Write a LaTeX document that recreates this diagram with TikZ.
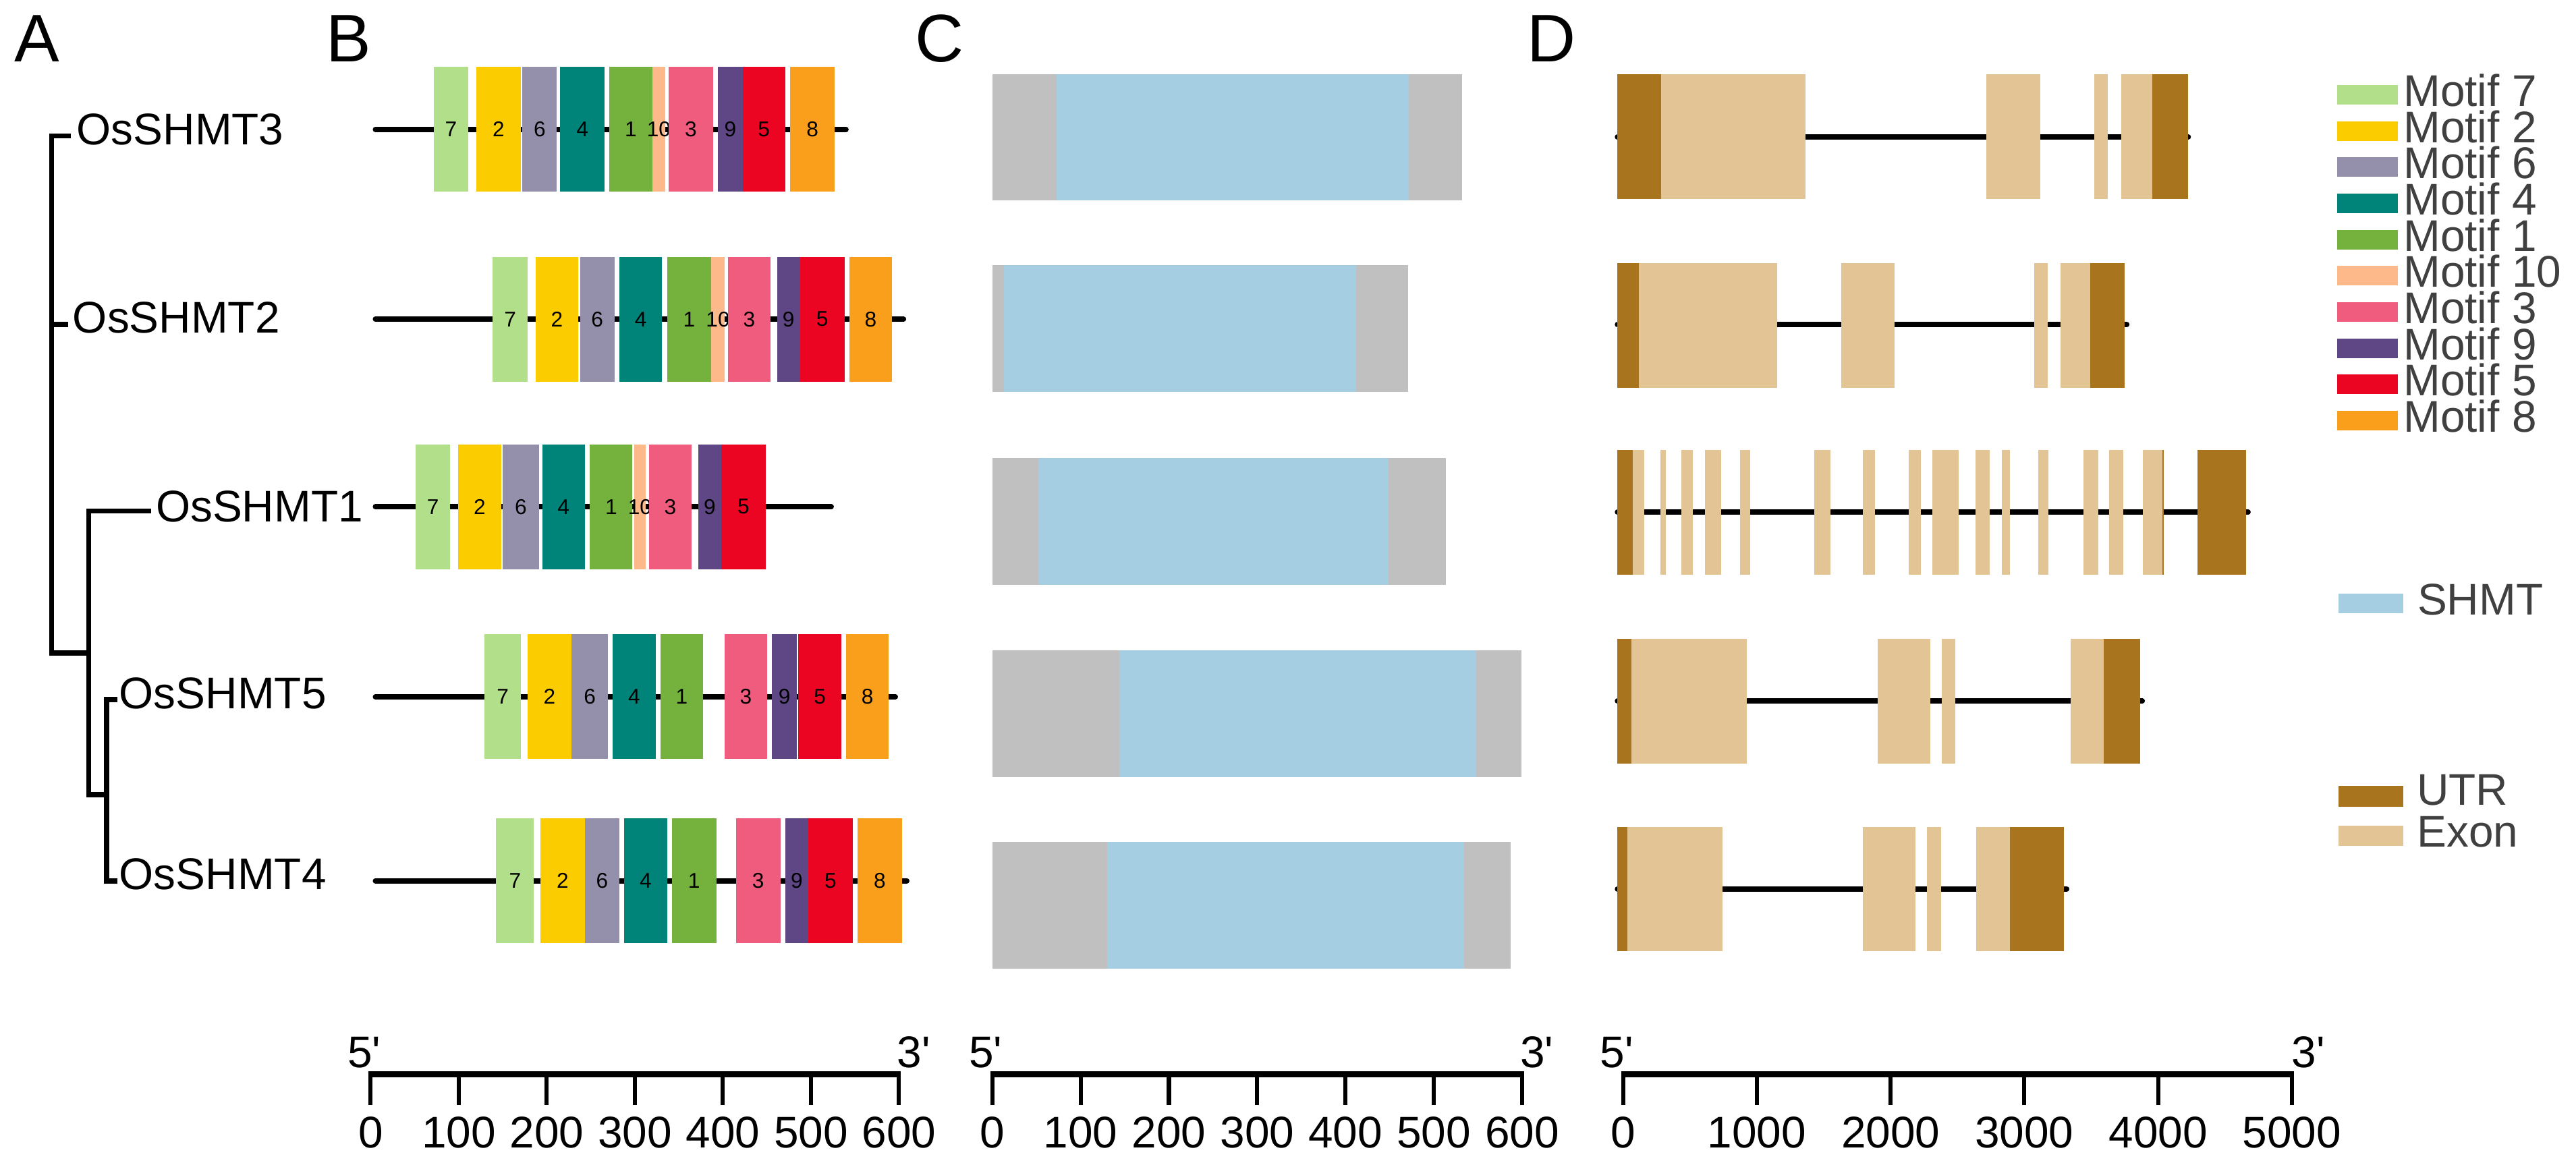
\documentclass[tikz,border=0pt]{standalone}
\usepackage{fontspec}
\newfontfamily\af{Liberation Sans}
\definecolor{mS}{RGB}{178,223,138}
\definecolor{mB}{RGB}{251,205,0}
\definecolor{mF}{RGB}{148,143,171}
\definecolor{mD}{RGB}{0,132,122}
\definecolor{mA}{RGB}{116,178,61}
\definecolor{mJ}{RGB}{253,185,138}
\definecolor{mC}{RGB}{240,92,126}
\definecolor{mI}{RGB}{94,71,132}
\definecolor{mE}{RGB}{235,5,34}
\definecolor{mH}{RGB}{250,159,27}
\definecolor{shmtblue}{RGB}{166,206,227}
\definecolor{cgray}{RGB}{192,192,192}
\definecolor{utrc}{RGB}{168,116,30}
\definecolor{exonc}{RGB}{227,197,149}
\definecolor{legtext}{RGB}{64,64,64}
\newcommand\fsz[1]{\fontsize{#1}{#1}\selectfont\af}
\newcommand\motrow[3]{\foreach \c/\a/\b/\l in {#3}{\fill[fill=\c] (\a,#2-38) rectangle (\b,#2+38); \node[mnum] (#1-\l) at ({(\a+\b)/2},#2) {\l};}}
\newcommand\generow[3]{\foreach \t/\a/\b in {#3}{\fill[fill=\t] (\a,#1) rectangle (\b,#2);}}
\begin{document}
\begin{tikzpicture}[x=1pt,y=-1pt,
  every node/.style={inner sep=0pt,outer sep=0pt},
  panel/.style={font=\fsz{41},anchor=base west},
  gene/.style={font=\fsz{27},anchor=base west},
  mnum/.style={font=\fsz{13},anchor=center},
  ticklab/.style={font=\fsz{27},anchor=base},
  legtxt/.style={font=\fsz{27},anchor=base west,text=legtext},
  tree/.style={line width=3.1pt,line join=miter},
  backbone/.style={line width=3.2pt,line cap=round},
  bar/.style={line width=3.4pt},
  tck/.style={line width=2.5pt}]
\useasboundingbox (0,0) rectangle (1568,709);

% panel letters
\node[panel] (pA) at (9,37.4) {A};
\node[panel] (pB) at (198.7,37.4) {B};
\node[panel] (pC) at (557,37.4) {C};
\node[panel] (pD) at (929.6,37.4) {D};

% tree
\node[gene] (g3) at (46.7,87.9) {OsSHMT3};
\node[gene] (g2) at (44.3,202.6) {OsSHMT2};
\node[gene] (g1) at (94.9,317.7) {OsSHMT1};
\node[gene] (g5) at (72.6,431.3) {OsSHMT5};
\node[gene] (g4) at (72.6,541.5) {OsSHMT4};
\coordinate (t3) at (43,82.7);
\coordinate (t2) at (41.6,197.5);
\coordinate (t1) at (92,311);
\coordinate (t5) at (71.5,425.8);
\coordinate (t4) at (71.5,536.4);
\draw[tree] (t3) -- (31.4,82.7) -- (31.4,397.5) -- (54,397.5);
\draw[tree] (31.4,197.5) -- (t2);
\draw[tree] (t1) -- (54,311) -- (54,483.8) -- (65,483.8);
\draw[tree] (t5) -- (65,425.8) -- (65,536.4) -- (t4);

% panel B backbones
\foreach \y/\xe in {78.8/515, 194.3/550, 308.5/506, 424.2/545, 536.2/552}
  \draw[backbone] (228.5,\y) -- (\xe,\y);
\motrow{ra}{78.8}{mS/264/285/7,mB/290/317/2,mF/318/339/6,mD/341/368/4,mA/371/397/1,mJ/397/405/10,mC/407/434/3,mI/437/452/9,mE/452/478/5,mH/481/508/8}
\motrow{rb}{194.3}{mS/300/321/7,mB/326/352/2,mF/353/374/6,mD/377/403/4,mA/406/433/1,mJ/433/441/10,mC/443/469/3,mI/473/487/9,mE/487/514/5,mH/517/543/8}
\motrow{rc}{308.5}{mS/253/274/7,mB/279/305/2,mF/306/328/6,mD/330/356/4,mA/359/385/1,mJ/386/393/10,mC/395/421/3,mI/425/439/9,mE/439/466/5}
\motrow{rd}{424.2}{mS/295/317/7,mB/321/348/2,mF/348/370/6,mD/373/399/4,mA/402/428/1,mC/441/467/3,mI/470/485/9,mE/486/512/5,mH/515/541/8}
\motrow{re}{536.2}{mS/302/325/7,mB/329/356/2,mF/356/377/6,mD/380/406/4,mA/409/436/1,mC/448/475/3,mI/478/492/9,mE/492/519/5,mH/522/549/8}

% panel C
\foreach \yt/\yb/\a/\b/\c/\d in {45/122/604/643/857.5/890, 161.5/238.6/604/611/825.5/857, 279/356/604/632/845/880, 396/473/604/681.5/898.6/926, 512.6/589.8/604/674/891/919.5}{
  \fill[cgray] (\a,\yt) rectangle (\d,\yb);
  \fill[shmtblue] (\b,\yt) rectangle (\c,\yb);
}

% panel D
\foreach \y/\xe in {83.4/1332, 197.6/1294.6, 311.8/1368.4, 426.8/1304, 541.2/1258}
  \draw[backbone] (984.5,\y) -- (\xe,\y);
\generow{45}{121}{utrc/984.4/1011.3, exonc/1011.3/1099, exonc/1209/1242, exonc/1274.6/1283, exonc/1291/1310, utrc/1310/1331.7}
\generow{160}{236}{utrc/984.4/997.5, exonc/997.5/1081.6, exonc/1120.6/1153.3, exonc/1238.2/1246.3, exonc/1254.1/1272.2, utrc/1272.2/1293.4}
\generow{274}{350}{utrc/984.4/994, exonc/994/1001, exonc/1010.6/1014, exonc/1023.4/1030.4, exonc/1037.8/1047.7, exonc/1059/1065.3, exonc/1104.3/1114.2, exonc/1133.7/1141.3, exonc/1161.7/1169.3, exonc/1176.1/1192.3, exonc/1202.3/1211.2, exonc/1218.3/1223.5, exonc/1240.8/1247, exonc/1268/1277.2, exonc/1283.8/1292.4, exonc/1304.2/1317, utrc/1316.3/1317.2, utrc/1337.4/1367.2}
\generow{389}{465}{utrc/984.4/993, exonc/993/1063.3, exonc/1143/1175, exonc/1181.9/1190, exonc/1260.2/1280.3, utrc/1280.3/1302.8}
\generow{503.6}{579.2}{utrc/984.4/990.4, exonc/990.4/1048.6, exonc/1134/1166, exonc/1173/1181.6, exonc/1203/1223.5, utrc/1223.5/1256.3}

% legend
\foreach \c/\l [count=\i from 0] in {mS/7,mB/2,mF/6,mD/4,mA/1,mJ/10,mC/3,mI/9,mE/5,mH/8}{
  \fill[fill=\c] (1422.6,{57.7+22.04*\i-6}) rectangle (1459.7,{57.7+22.04*\i+6});
  \node[legtxt] (leg-\l) at (1463,{57.7+22.04*\i+7}) {Motif \l};
}
\fill[shmtblue] (1423.3,361.6) rectangle (1463,373.5);
\node[legtxt] (legS) at (1471.5,374.5) {SHMT};
\fill[utrc] (1423.3,478.4) rectangle (1463,491);
\node[legtxt] (legU) at (1471.2,490.3) {UTR};
\fill[exonc] (1423.3,502.6) rectangle (1463,514.8);
\node[legtxt] (legE) at (1471.2,515.8) {Exon};

% scale bars
\draw[bar] (224.35,654) -- (548.45,654);
\foreach \v [count=\i from 0] in {0,100,200,300,400,500,600}{
  \draw[tck] ({225.6+53.6*\i},654) -- ({225.6+53.6*\i},672.8);
  \node[ticklab] (sa-\i) at ({225.6+53.6*\i},698.8) {\v};
}
\node[ticklab] (sa5) at (221.6,650) {5\char"0027};
\node[ticklab] (sa3) at (556.2,650) {3\char"0027};

\draw[bar] (602.75,654) -- (927.75,654);
\foreach \v [count=\i from 0] in {0,100,200,300,400,500,600}{
  \draw[tck] ({604+53.75*\i},654) -- ({604+53.75*\i},672.8);
  \node[ticklab] (sb-\i) at ({604+53.75*\i},698.8) {\v};
}
\node[ticklab] (sb5) at (600,650) {5\char"0027};
\node[ticklab] (sb3) at (935.5,650) {3\char"0027};

\draw[bar] (986.75,654) -- (1396.25,654);
\foreach \v [count=\i from 0] in {0,1000,2000,3000,4000,5000}{
  \draw[tck] ({988+81.4*\i},654) -- ({988+81.4*\i},672.8);
  \node[ticklab] (sc-\i) at ({988+81.4*\i},698.8) {\v};
}
\node[ticklab] (sc5) at (984,650) {5\char"0027};
\node[ticklab] (sc3) at (1405,650) {3\char"0027};
\end{tikzpicture}
\end{document}
